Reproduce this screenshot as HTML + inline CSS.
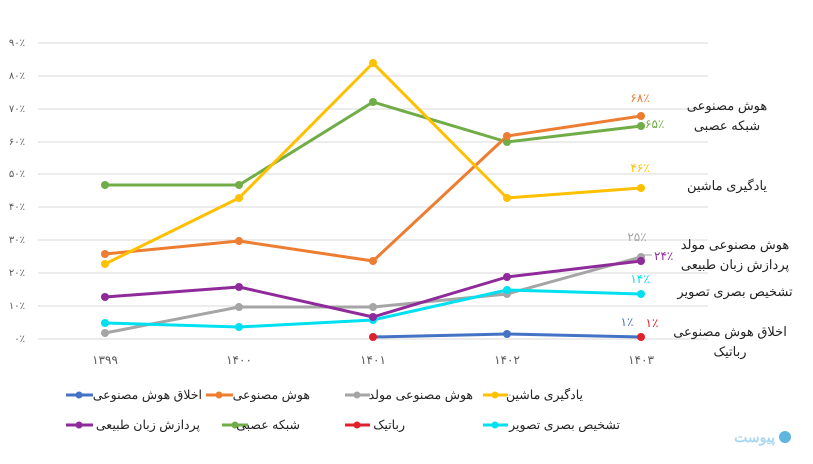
<!DOCTYPE html>
<html><head><meta charset="utf-8"><style>
html,body{margin:0;padding:0;background:#fff;}
svg{display:block;font-family:"Liberation Sans","Noto Sans CJK SC",sans-serif;}
</style></head><body>
<svg width="813" height="464" viewBox="0 0 813 464" xmlns="http://www.w3.org/2000/svg">
<g stroke="#d9d9d9" stroke-width="1">
<line x1="38" y1="43" x2="708" y2="43"/><line x1="38" y1="76" x2="708" y2="76"/>
<line x1="38" y1="109" x2="708" y2="109"/><line x1="38" y1="142" x2="708" y2="142"/>
<line x1="38" y1="174" x2="708" y2="174"/><line x1="38" y1="207" x2="708" y2="207"/>
<line x1="38" y1="240" x2="708" y2="240"/><line x1="38" y1="273" x2="708" y2="273"/>
<line x1="38" y1="306" x2="708" y2="306"/><line x1="38" y1="339" x2="708" y2="339"/>
</g>
<g font-size="10" fill="#595959" text-anchor="end">
<text x="25" y="46">۹۰٪</text><text x="25" y="79">۸۰٪</text><text x="25" y="112">۷۰٪</text>
<text x="25" y="145">۶۰٪</text><text x="25" y="177">۵۰٪</text><text x="25" y="210">۴۰٪</text>
<text x="25" y="243">۳۰٪</text><text x="25" y="276">۲۰٪</text><text x="25" y="309">۱۰٪</text>
<text x="25" y="342">۰٪</text>
</g>
<g font-size="12" fill="#595959" text-anchor="middle">
<text x="105" y="364">۱۳۹۹</text><text x="239" y="364">۱۴۰۰</text><text x="373" y="364">۱۴۰۱</text>
<text x="507" y="364">۱۴۰۲</text><text x="641" y="364">۱۴۰۳</text>
</g>
<g fill="none" stroke-width="3" stroke-linejoin="round">
<polyline stroke="#70ad47" points="105,185 239,185 373,102 507,142 641,126"/>
<polyline stroke="#a5a5a5" points="105,333 239,307 373,307 507,294 641,257"/>
<polyline stroke="#ed7d31" points="105,254 239,241 373,261 507,136 641,116"/>
<polyline stroke="#ffc000" points="105,264 239,198 373,63 507,198 641,188"/>
<polyline stroke="#00e0f0" points="105,323 239,327 373,320 507,290 641,294"/>
<polyline stroke="#8e2a9a" points="105,297 239,287 373,317 507,277 641,261"/>
<polyline stroke="#4472c4" points="373,337 507,334 641,337"/>
</g>
<g>
<g fill="#70ad47"><circle cx="105" cy="185" r="4"/><circle cx="239" cy="185" r="4"/><circle cx="373" cy="102" r="4"/><circle cx="507" cy="142" r="4"/><circle cx="641" cy="126" r="4"/></g>
<g fill="#a5a5a5"><circle cx="105" cy="333" r="4"/><circle cx="239" cy="307" r="4"/><circle cx="373" cy="307" r="4"/><circle cx="507" cy="294" r="4"/><circle cx="641" cy="257" r="4"/></g>
<g fill="#ed7d31"><circle cx="105" cy="254" r="4"/><circle cx="239" cy="241" r="4"/><circle cx="373" cy="261" r="4"/><circle cx="507" cy="136" r="4"/><circle cx="641" cy="116" r="4"/></g>
<g fill="#ffc000"><circle cx="105" cy="264" r="4"/><circle cx="239" cy="198" r="4"/><circle cx="373" cy="63" r="4"/><circle cx="507" cy="198" r="4"/><circle cx="641" cy="188" r="4"/></g>
<g fill="#00e0f0"><circle cx="105" cy="323" r="4"/><circle cx="239" cy="327" r="4"/><circle cx="373" cy="320" r="4"/><circle cx="507" cy="290" r="4"/><circle cx="641" cy="294" r="4"/></g>
<g fill="#8e2a9a"><circle cx="105" cy="297" r="4"/><circle cx="239" cy="287" r="4"/><circle cx="373" cy="317" r="4"/><circle cx="507" cy="277" r="4"/><circle cx="641" cy="261" r="4"/></g>
<g fill="#4472c4"><circle cx="507" cy="334" r="4"/></g>
<g fill="#e0202a"><circle cx="373" cy="337" r="4"/><circle cx="641" cy="337" r="4"/></g>
</g>
<g font-size="12">
<text x="640" y="102" fill="#ed7d31" text-anchor="middle">۶۸٪</text>
<text x="645" y="128" fill="#70ad47">۶۵٪</text>
<text x="640" y="172" fill="#ffc000" text-anchor="middle">۴۶٪</text>
<text x="637" y="241" fill="#a5a5a5" text-anchor="middle">۲۵٪</text>
<line x1="644" y1="255" x2="652" y2="255" stroke="#a5a5a5"/>
<text x="654" y="260" fill="#8e2a9a">۲۴٪</text>
<text x="640" y="283" fill="#00e0f0" text-anchor="middle">۱۴٪</text>
<text x="627" y="326" fill="#4472c4" text-anchor="middle">۱٪</text>
<text x="652" y="327" fill="#e0202a" text-anchor="middle">۱٪</text>
</g>
<g font-size="13" fill="#222" text-anchor="middle">
<text x="727" y="110">هوش مصنوعی</text>
<text x="727" y="130">شبکه عصبی</text>
<text x="727" y="190">یادگیری ماشین</text>
<text x="735" y="249">هوش مصنوعی مولد</text>
<text x="735" y="269">پردازش زبان طبیعی</text>
<text x="735" y="296">تشخیص بصری تصویر</text>
<text x="730" y="336">اخلاق هوش مصنوعی</text>
<text x="730" y="356">رباتیک</text>
</g>
<g stroke-width="3">
<line x1="66" y1="395" x2="93" y2="395" stroke="#4472c4"/><circle cx="79" cy="395" r="3.5" fill="#4472c4"/>
<line x1="206" y1="395" x2="233" y2="395" stroke="#ed7d31"/><circle cx="219" cy="395" r="3.5" fill="#ed7d31"/>
<line x1="345" y1="395" x2="370" y2="395" stroke="#a5a5a5"/><circle cx="357" cy="395" r="3.5" fill="#a5a5a5"/>
<line x1="483" y1="395" x2="508" y2="395" stroke="#ffc000"/><circle cx="495" cy="395" r="3.5" fill="#ffc000"/>
<line x1="66" y1="425" x2="93" y2="425" stroke="#8e2a9a"/><circle cx="79" cy="425" r="3.5" fill="#8e2a9a"/>
<line x1="222" y1="425" x2="248" y2="425" stroke="#70ad47"/><circle cx="235" cy="425" r="3.5" fill="#70ad47"/>
<line x1="345" y1="425" x2="370" y2="425" stroke="#e0202a"/><circle cx="357" cy="425" r="3.5" fill="#e0202a"/>
<line x1="483" y1="425" x2="508" y2="425" stroke="#00e0f0"/><circle cx="495" cy="425" r="3.5" fill="#00e0f0"/>
</g>
<g font-size="12.5" fill="#222" text-anchor="end">
<text x="202" y="399">اخلاق هوش مصنوعی</text>
<text x="310" y="399">هوش مصنوعی</text>
<text x="473" y="399">هوش مصنوعی مولد</text>
<text x="583" y="399">یادگیری ماشین</text>
<text x="200" y="429">پردازش زبان طبیعی</text>
<text x="300" y="429">شبکه عصبی</text>
<text x="405" y="429">رباتیک</text>
<text x="620" y="429">تشخیص بصری تصویر</text>
</g>
<circle cx="785" cy="437" r="6" fill="#5fb4e0"/>
<text x="775" y="442" font-size="14" font-weight="bold" fill="#a9d8f0" text-anchor="end">پیوست</text>
</svg>
</body></html>
